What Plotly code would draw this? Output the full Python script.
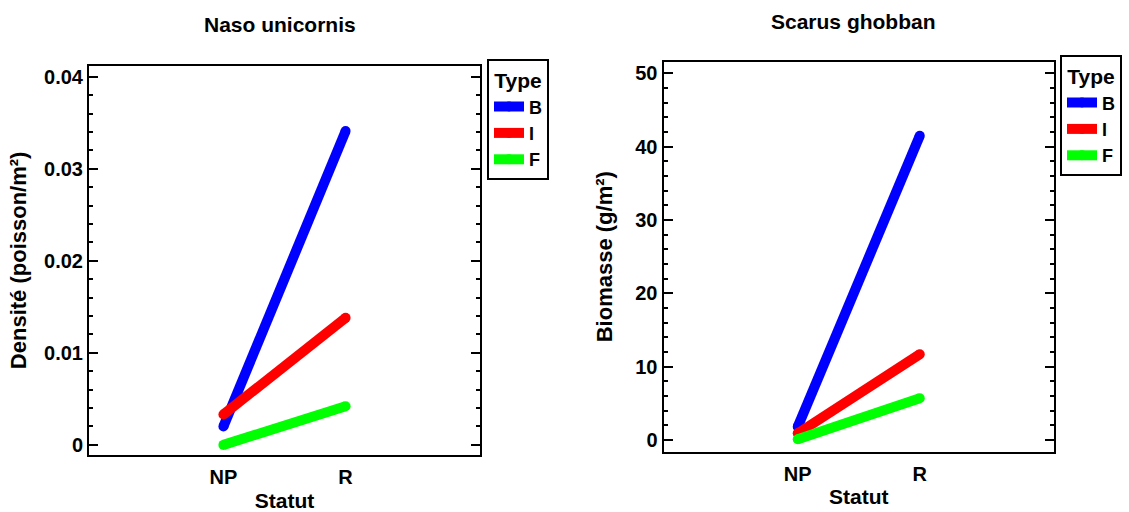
import plotly.graph_objects as go

statut = ["NP", "R"]
types = ["B", "I", "F"]
colors = {"B": "#0000FF", "I": "#FF0000", "F": "#00FF00"}

# Naso unicornis - density (fish/m2)
naso_density = {
    "B": [0.0020, 0.0341],
    "I": [0.0033, 0.0138],
    "F": [0.0000, 0.0042],
}
# Scarus ghobban - biomass (g/m2)
scarus_biomass = {
    "B": [1.8, 41.5],
    "I": [0.9, 11.7],
    "F": [0.1, 5.7],
}

W, H = 1129, 512
FONT = "Liberation Sans, Arial, sans-serif"

fig = go.Figure()
for t in types:
    fig.add_trace(go.Scatter(
        x=statut, y=naso_density[t], name=t, mode="lines+markers",
        line=dict(color=colors[t], width=10),
        marker=dict(color=colors[t], size=10),
        xaxis="x", yaxis="y", legend="legend",
    ))
for t in types:
    fig.add_trace(go.Scatter(
        x=statut, y=scarus_biomass[t], name=t, mode="lines+markers",
        line=dict(color=colors[t], width=10),
        marker=dict(color=colors[t], size=10),
        xaxis="x2", yaxis="y2", legend="legend2",
    ))

def px_x(v):
    return v / W

def px_y(v):
    return (H - v) / H

tickfont = dict(family=FONT, size=20, color="black", weight="bold")
titlefont = dict(family=FONT, size=22, color="black", weight="bold")

def xaxis(domain, anchor):
    return dict(
        domain=domain, anchor=anchor, type="category",
        categoryorder="array", categoryarray=statut,
        range=[-1.1, 2.1], showgrid=False, zeroline=False,
        showline=True, linecolor="black", linewidth=2, mirror=True,
        ticks="", tickfont=tickfont, ticklabelstandoff=3,
        title=dict(text="Statut", font=dict(family=FONT, size=21, color="black", weight="bold"), standoff=6),
    )

def yaxis(domain, anchor, rng, dtick, minor, title, standoff):
    return dict(
        domain=domain, anchor=anchor, range=rng, dtick=dtick, tick0=0,
        showgrid=False, zeroline=False,
        showline=True, linecolor="black", linewidth=2, mirror="ticks",
        ticks="inside", ticklen=9, tickwidth=2, tickcolor="black",
        minor=dict(ticks="inside", ticklen=4, tickwidth=2, tickcolor="black", dtick=minor, tick0=0, showgrid=False),
        tickfont=tickfont,
        title=dict(text=title, font=titlefont, standoff=standoff),
    )

legend_common = dict(
    bgcolor="white", bordercolor="black", borderwidth=2,
    font=dict(family=FONT, size=18, color="black", weight="bold"),
    title=dict(text="Type", font=dict(family=FONT, size=21, color="black", weight="bold"), side="top center"),
    xanchor="left", yanchor="top", tracegroupgap=0,
)

fig.update_layout(
    width=W, height=H, autosize=False,
    margin=dict(l=0, r=0, t=0, b=0),
    paper_bgcolor="white", plot_bgcolor="white",
    xaxis=xaxis([px_x(89), px_x(480)], "y"),
    yaxis=yaxis([px_y(455), px_y(65.7)], "x", [-0.0011, 0.0412], 0.01, 0.002,
                "Densité (poisson/m²)", 11),
    xaxis2=xaxis([px_x(663.5), px_x(1054)], "y2"),
    yaxis2=yaxis([px_y(451.7), px_y(61.7)], "x2", [-1.6, 51.6], 10, 2,
                 "Biomasse (g/m²)", 17),
    legend=dict(x=px_x(487), y=px_y(59), **legend_common),
    legend2=dict(x=px_x(1060), y=px_y(55), **legend_common),
    annotations=[
        dict(text="Naso unicornis", x=px_x(280), y=px_y(24), xref="paper", yref="paper",
             xanchor="center", yanchor="middle", showarrow=False,
             font=dict(family=FONT, size=21, color="black", weight="bold")),
        dict(text="Scarus ghobban", x=px_x(853), y=px_y(21), xref="paper", yref="paper",
             xanchor="center", yanchor="middle", showarrow=False,
             font=dict(family=FONT, size=21, color="black", weight="bold")),
    ],
)

fig.write_html("out.html")
